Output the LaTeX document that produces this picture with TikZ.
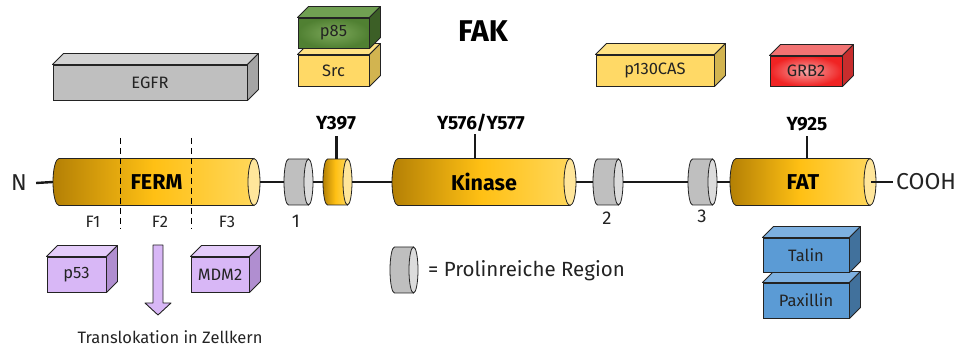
\documentclass[tikz,border=0pt]{standalone}
\usepackage{fontspec}
\setmainfont{Fira Sans}
\usepackage{tikz}
\usetikzlibrary{
  positioning,
  fit
}
\definecolor{golddark}{RGB}{180,128,5}
\definecolor{goldmid}{RGB}{255,192,20}
\definecolor{goldlight}{RGB}{255,215,90}
\definecolor{goldend}{RGB}{255,230,155}
\definecolor{cylgray}{RGB}{191,191,191}
\definecolor{cylgrayend}{RGB}{220,220,220}
\definecolor{boxgray}{RGB}{191,191,191}
\definecolor{boxgraytop}{RGB}{210,210,210}
\definecolor{boxgrayside}{RGB}{165,165,165}
\definecolor{boxyellow}{RGB}{255,217,102}
\definecolor{boxyellowtop}{RGB}{255,226,132}
\definecolor{boxyellowside}{RGB}{210,180,80}
\definecolor{boxgreen}{RGB}{80,128,50}
\definecolor{boxgreenin}{RGB}{125,168,90}
\definecolor{boxgreentop}{RGB}{112,160,82}
\definecolor{boxgreenside}{RGB}{60,95,38}
\definecolor{boxred}{RGB}{240,35,35}
\definecolor{boxredin}{RGB}{245,165,165}
\definecolor{boxredtop}{RGB}{242,115,115}
\definecolor{boxredside}{RGB}{200,45,45}
\definecolor{boxpurple}{RGB}{216,183,246}
\definecolor{boxpurpletop}{RGB}{228,204,250}
\definecolor{boxpurpleside}{RGB}{176,142,208}
\definecolor{boxblue}{RGB}{91,155,213}
\definecolor{boxbluetop}{RGB}{125,176,224}
\definecolor{boxblueside}{RGB}{65,113,156}
\definecolor{ink}{RGB}{35,35,35}
\tikzset{
  protbox/.style={
    draw=ink,
    line width=0.9pt,
    inner sep=0pt,
    text=ink,
    font=\fontsize{16.5}{18}\selectfont
  },
  boxline/.style={draw=ink,line width=0.9pt,line join=round},
  cylline/.style={draw=ink,line width=0.8pt},
  golddomain/.style={left color=golddark,right color=goldlight,middle color=goldmid},
  graydomain/.style={fill=cylgray},
  domtext/.style={font=\bfseries\fontsize{21.5}{23}\selectfont,inner sep=0pt},
  sitetext/.style={font=\bfseries\fontsize{19}{21}\selectfont,inner sep=0pt},
  subtext/.style={font=\fontsize{16.5}{18}\selectfont,text=ink,inner sep=0pt},
  numtext/.style={font=\fontsize{18.5}{20}\selectfont,text=ink,inner sep=0pt},
  endtext/.style={font=\fontsize{23}{25}\selectfont,text=ink,inner sep=0pt},
  backbone/.style={line width=2.4pt,black!90},
  fsplit/.style={line width=1pt,dash pattern=on 6pt off 4pt}
}
% cylinder: name, left x, right x, centre y, half height, end radius, body fill, end fill
\newcommand{\domaincyl}[8]{%
  \path[#7] (#3-#6,#4+#5) -- (#2+#6,#4+#5) arc[start angle=90,end angle=270,x radius=#6,y radius=#5] -- (#3-#6,#4-#5) -- cycle;
  \draw[cylline] (#3-#6,#4+#5) -- (#2+#6,#4+#5) arc[start angle=90,end angle=270,x radius=#6,y radius=#5] -- (#3-#6,#4-#5);
  \draw[cylline,fill=#8] (#3-#6,#4) ellipse[x radius=#6,y radius=#5];
  \node[fit={(#2,#4+#5) (#3,#4-#5)},inner sep=0pt] (#1) {};
}
% top and side face of a box node
\newcommand{\boxfaces}[3]{%
  \draw[boxline,fill=#2] (#1.north west) -- ++(11,11) -- ([shift={(11,11)}]#1.north east) -- (#1.north east) -- cycle;
  \draw[boxline,fill=#3] (#1.north east) -- ++(11,11) -- ([shift={(11,11)}]#1.south east) -- (#1.south east) -- cycle;
}

\begin{document}
\begin{tikzpicture}[x=1pt,y=1pt]
  \useasboundingbox (0,0) rectangle (962,-347);

  \node[font=\bfseries\fontsize{30}{33}\selectfont,inner sep=0pt] (fak) at (483,-31) {FAK};

  % binding partners above
  \node[protbox,fill=boxgray,minimum width=194,minimum height=35] (egfr) at (150,-82.5) {EGFR};
  \boxfaces{egfr}{boxgraytop}{boxgrayside}
  \node[protbox,fill=boxyellow,minimum width=71,minimum height=31] (src) at (333.5,-70.5) {Src};
  \boxfaces{src}{boxyellowtop}{boxyellowside}
  \node[protbox,inner color=boxgreenin,outer color=boxgreen,minimum width=71,minimum height=30] (pe) at (333.5,-33) {p85};
  \boxfaces{pe}{boxgreentop}{boxgreenside}
  \node[protbox,fill=boxyellow,minimum width=118,minimum height=31] (cas) at (655,-70.5) {p130CAS};
  \boxfaces{cas}{boxyellowtop}{boxyellowside}
  \node[protbox,inner color=boxredin,outer color=boxred,minimum width=72,minimum height=30] (grb) at (806,-71) {GRB2};
  \boxfaces{grb}{boxredtop}{boxredside}

  % domains
  \domaincyl{ferm}{53}{260}{-182}{23.5}{6}{golddomain}{goldend}
  \domaincyl{pr1}{284}{313}{-182}{23}{4.5}{graydomain}{cylgrayend}
  \domaincyl{ysmall}{323}{352}{-182}{23}{4.5}{golddomain}{goldend}
  \domaincyl{kin}{392}{576}{-182}{23.5}{6}{golddomain}{goldend}
  \domaincyl{pr2}{593}{623}{-182}{23}{4.5}{graydomain}{cylgrayend}
  \domaincyl{pr3}{688}{717}{-182}{23}{4.5}{graydomain}{cylgrayend}
  \domaincyl{fat}{730}{876}{-182}{23.5}{6}{golddomain}{goldend}

  \node[endtext] (nterm) at (19,-183) {N};
  \node[endtext,anchor=west] (cterm) at (896,-182) {COOH};
  \draw[backbone] (nterm.east) ++(9,0) -- (ferm.west);
  \draw[backbone] (ferm.east) -- (pr1.west);
  \draw[backbone] (pr1.east) -- (ysmall.west);
  \draw[backbone] (ysmall.east) -- (kin.west);
  \draw[backbone] (kin.east) -- (pr2.west);
  \draw[backbone] (pr2.east) -- (pr3.west);
  \draw[backbone] (pr3.east) -- (fat.west);
  \draw[backbone] ([xshift=-5]fat.east) -- ([xshift=-3]cterm.west);

  \node[domtext] (fermlab) at (ferm) {FERM};
  \node[domtext] (kinlab) at (kin) {Kinase};
  \node[domtext] (fatlab) at (fat) {FAT};

  % phospho sites
  \draw[backbone] ([xshift=-1]ysmall.north) -- ++(0,23);
  \draw[backbone] ([xshift=-9]kin.north) -- ++(0,24);
  \draw[backbone] ([xshift=4]fat.north) -- ++(0,22);
  \node[sitetext] (s397) at (336,-123) {Y397};
  \node[sitetext] (s576) at (481,-123) {Y576/Y577};
  \node[sitetext] (s925) at (807,-124) {Y925};

  % FERM subdomains
  \draw[fsplit] (120,-138) -- (120,-229);
  \draw[fsplit] (191,-138) -- (191,-229);
  \node[subtext] (fone) at (93,-222) {F1};
  \node[subtext] (ftwo) at (160,-222) {F2};
  \node[subtext] (fthree) at (227,-222) {F3};
  \node[numtext] (none) at (296,-221) {1};
  \node[numtext] (ntwo) at (607,-218) {2};
  \node[numtext] (nthree) at (702,-216) {3};

  % partners below
  \node[protbox,fill=boxpurple,minimum width=59,minimum height=35] (pft) at (76.5,-274.5) {p53};
  \boxfaces{pft}{boxpurpletop}{boxpurpleside}
  \node[protbox,fill=boxpurple,minimum width=58,minimum height=35] (mdm) at (220,-274.5) {MDM2};
  \boxfaces{mdm}{boxpurpletop}{boxpurpleside}
  \draw[boxline,fill=boxpurple] (153,-245) -- (163,-245) -- (163,-303) -- (171,-303) -- (158,-315) -- (145,-303) -- (153,-303) -- cycle;
  \node[subtext] (transl) at (170,-337) {Translokation in Zellkern};

  \node[protbox,fill=boxblue,minimum width=86,minimum height=35] (pax) at (806,-300.5) {Paxillin};
  \boxfaces{pax}{boxbluetop}{boxblueside}
  \node[protbox,fill=boxblue,minimum width=86,minimum height=34] (talin) at (806,-255) {Talin};
  \boxfaces{talin}{boxbluetop}{boxblueside}

  % legend
  \domaincyl{leg}{390}{418}{-270}{23}{4.5}{graydomain}{cylgrayend}
  \node[font=\fontsize{20.5}{22}\selectfont,text=ink,inner sep=0pt,anchor=west] (legtext) at (428,-271) {= Prolinreiche Region};
\end{tikzpicture}
\end{document}
